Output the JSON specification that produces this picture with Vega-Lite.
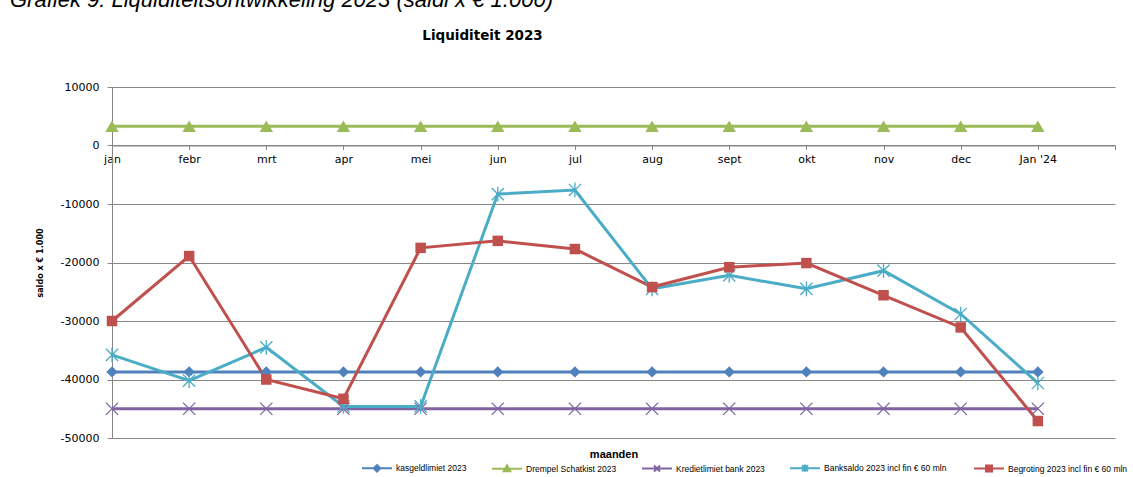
{
  "$schema": "https://vega.github.io/schema/vega-lite/v6.json",
  "autosize": "none",
  "padding": {"left": 112, "top": 87, "right": 18, "bottom": 39},
  "width": 1003,
  "height": 351,
  "background": "white",
  "title": {
    "text": "Grafiek 9: Liquiditeitsontwikkeling 2023 (saldi x € 1.000)",
    "anchor": "start", "frame": "group", "dx": -102, "offset": 16,
    "font": "Liberation Sans", "fontStyle": "italic", "fontWeight": "normal",
    "fontSize": 22, "color": "#000000"
  },
  "config": {
    "view": {"stroke": null},
    "axis": {
      "labelFont": "DejaVu Sans", "labelFontSize": 11, "labelColor": "#000000",
      "domainColor": "#868686", "tickColor": "#868686", "gridColor": "#868686",
      "domainWidth": 1, "tickWidth": 1, "gridWidth": 1
    }
  },
  "data": {
    "values": [
      {"series": "kasgeldlimiet 2023", "maand": "jan", "value": -38700},
      {"series": "kasgeldlimiet 2023", "maand": "febr", "value": -38700},
      {"series": "kasgeldlimiet 2023", "maand": "mrt", "value": -38700},
      {"series": "kasgeldlimiet 2023", "maand": "apr", "value": -38700},
      {"series": "kasgeldlimiet 2023", "maand": "mei", "value": -38700},
      {"series": "kasgeldlimiet 2023", "maand": "jun", "value": -38700},
      {"series": "kasgeldlimiet 2023", "maand": "jul", "value": -38700},
      {"series": "kasgeldlimiet 2023", "maand": "aug", "value": -38700},
      {"series": "kasgeldlimiet 2023", "maand": "sept", "value": -38700},
      {"series": "kasgeldlimiet 2023", "maand": "okt", "value": -38700},
      {"series": "kasgeldlimiet 2023", "maand": "nov", "value": -38700},
      {"series": "kasgeldlimiet 2023", "maand": "dec", "value": -38700},
      {"series": "kasgeldlimiet 2023", "maand": "Jan '24", "value": -38700},
      {"series": "Drempel Schatkist 2023", "maand": "jan", "value": 3300},
      {"series": "Drempel Schatkist 2023", "maand": "febr", "value": 3300},
      {"series": "Drempel Schatkist 2023", "maand": "mrt", "value": 3300},
      {"series": "Drempel Schatkist 2023", "maand": "apr", "value": 3300},
      {"series": "Drempel Schatkist 2023", "maand": "mei", "value": 3300},
      {"series": "Drempel Schatkist 2023", "maand": "jun", "value": 3300},
      {"series": "Drempel Schatkist 2023", "maand": "jul", "value": 3300},
      {"series": "Drempel Schatkist 2023", "maand": "aug", "value": 3300},
      {"series": "Drempel Schatkist 2023", "maand": "sept", "value": 3300},
      {"series": "Drempel Schatkist 2023", "maand": "okt", "value": 3300},
      {"series": "Drempel Schatkist 2023", "maand": "nov", "value": 3300},
      {"series": "Drempel Schatkist 2023", "maand": "dec", "value": 3300},
      {"series": "Drempel Schatkist 2023", "maand": "Jan '24", "value": 3300},
      {"series": "Kredietlimiet bank 2023", "maand": "jan", "value": -45000},
      {"series": "Kredietlimiet bank 2023", "maand": "febr", "value": -45000},
      {"series": "Kredietlimiet bank 2023", "maand": "mrt", "value": -45000},
      {"series": "Kredietlimiet bank 2023", "maand": "apr", "value": -45000},
      {"series": "Kredietlimiet bank 2023", "maand": "mei", "value": -45000},
      {"series": "Kredietlimiet bank 2023", "maand": "jun", "value": -45000},
      {"series": "Kredietlimiet bank 2023", "maand": "jul", "value": -45000},
      {"series": "Kredietlimiet bank 2023", "maand": "aug", "value": -45000},
      {"series": "Kredietlimiet bank 2023", "maand": "sept", "value": -45000},
      {"series": "Kredietlimiet bank 2023", "maand": "okt", "value": -45000},
      {"series": "Kredietlimiet bank 2023", "maand": "nov", "value": -45000},
      {"series": "Kredietlimiet bank 2023", "maand": "dec", "value": -45000},
      {"series": "Kredietlimiet bank 2023", "maand": "Jan '24", "value": -45000},
      {"series": "Banksaldo  2023 incl fin € 60 mln", "maand": "jan", "value": -35800},
      {"series": "Banksaldo  2023 incl fin € 60 mln", "maand": "febr", "value": -40200},
      {"series": "Banksaldo  2023 incl fin € 60 mln", "maand": "mrt", "value": -34500},
      {"series": "Banksaldo  2023 incl fin € 60 mln", "maand": "apr", "value": -44600},
      {"series": "Banksaldo  2023 incl fin € 60 mln", "maand": "mei", "value": -44600},
      {"series": "Banksaldo  2023 incl fin € 60 mln", "maand": "jun", "value": -8300},
      {"series": "Banksaldo  2023 incl fin € 60 mln", "maand": "jul", "value": -7600},
      {"series": "Banksaldo  2023 incl fin € 60 mln", "maand": "aug", "value": -24500},
      {"series": "Banksaldo  2023 incl fin € 60 mln", "maand": "sept", "value": -22200},
      {"series": "Banksaldo  2023 incl fin € 60 mln", "maand": "okt", "value": -24500},
      {"series": "Banksaldo  2023 incl fin € 60 mln", "maand": "nov", "value": -21400},
      {"series": "Banksaldo  2023 incl fin € 60 mln", "maand": "dec", "value": -28800},
      {"series": "Banksaldo  2023 incl fin € 60 mln", "maand": "Jan '24", "value": -40600},
      {"series": "Begroting 2023 incl fin € 60 mln", "maand": "jan", "value": -30000},
      {"series": "Begroting 2023 incl fin € 60 mln", "maand": "febr", "value": -18900},
      {"series": "Begroting 2023 incl fin € 60 mln", "maand": "mrt", "value": -40000},
      {"series": "Begroting 2023 incl fin € 60 mln", "maand": "apr", "value": -43300},
      {"series": "Begroting 2023 incl fin € 60 mln", "maand": "mei", "value": -17500},
      {"series": "Begroting 2023 incl fin € 60 mln", "maand": "jun", "value": -16300},
      {"series": "Begroting 2023 incl fin € 60 mln", "maand": "jul", "value": -17700},
      {"series": "Begroting 2023 incl fin € 60 mln", "maand": "aug", "value": -24200},
      {"series": "Begroting 2023 incl fin € 60 mln", "maand": "sept", "value": -20800},
      {"series": "Begroting 2023 incl fin € 60 mln", "maand": "okt", "value": -20100},
      {"series": "Begroting 2023 incl fin € 60 mln", "maand": "nov", "value": -25600},
      {"series": "Begroting 2023 incl fin € 60 mln", "maand": "dec", "value": -31100},
      {"series": "Begroting 2023 incl fin € 60 mln", "maand": "Jan '24", "value": -47100}
    ]
  },
  "encoding": {
    "y": {
      "field": "value", "type": "quantitative",
      "scale": {"domain": [-50000, 10000], "nice": false, "zero": false},
      "axis": {
        "values": [-50000, -40000, -30000, -20000, -10000, 0, 10000],
        "labelExpr": "datum.value + ''",
        "grid": true, "tickSize": 5, "labelPadding": 8,
        "title": "saldo x € 1.000", "titlePadding": 16,
        "titleFont": "DejaVu Sans Condensed, Liberation Sans", "titleFontSize": 9, "titleFontWeight": "bold", "titleColor": "#000000"
      }
    },
    "color": {
      "field": "series", "type": "nominal",
      "scale": {
        "domain": ["kasgeldlimiet 2023", "Drempel Schatkist 2023", "Kredietlimiet bank 2023", "Banksaldo  2023 incl fin € 60 mln", "Begroting 2023 incl fin € 60 mln"],
        "range": ["#4F81BD", "#9BBB59", "#8064A2", "#4BACC6", "#C0504D"]
      },
      "legend": {
        "orient": "none", "legendX": 249, "legendY": 365, "direction": "horizontal",
        "title": null, "symbolType": "stroke", "symbolSize": 900, "symbolStrokeWidth": 2,
        "labelFont": "Liberation Sans", "labelFontSize": 8.5, "labelColor": "#000000",
        "columnPadding": 21, "labelOffset": 3, "labelLimit": 300,
        "encode": {
          "symbols": {
            "update": {
              "shape": {"signal": "datum.value == 'kasgeldlimiet 2023' ? 'M-1,0L1,0M0,-0.22L0.22,0L0,0.22L-0.22,0Z' : datum.value == 'Drempel Schatkist 2023' ? 'M-1,0L1,0M0,-0.22L0.22,0.18L-0.22,0.18Z' : datum.value == 'Kredietlimiet bank 2023' ? 'M-1,0L1,0M-0.2,-0.2L0.2,0.2M-0.2,0.2L0.2,-0.2' : datum.value == 'Begroting 2023 incl fin € 60 mln' ? 'M-1,0L1,0M-0.2,-0.2L0.2,-0.2L0.2,0.2L-0.2,0.2Z' : 'M-1,0L1,0M-0.2,-0.2L0.2,0.2M-0.2,0.2L0.2,-0.2M0,-0.24L0,0.24'"},
              "size": {"value": 900},
              "strokeWidth": {"value": 2},
              "fill": {"scale": "color", "field": "value"},
              "stroke": {"scale": "color", "field": "value"},
              "opacity": {"value": 1},
              "fillOpacity": {"value": 1}
            }
          }
        }
      }
    }
  },
  "layer": [
    {
      "mark": {"type": "line", "strokeWidth": 3},
      "encoding": {
        "x": {
          "field": "maand", "type": "ordinal", "sort": null,
          "scale": {"type": "point", "padding": 0,
            "domain": ["jan", "febr", "mrt", "apr", "mei", "jun", "jul", "aug", "sept", "okt", "nov", "dec", "Jan '24", " "]},
          "axis": {
            "orient": "bottom", "offset": -292.5, "labelAngle": 0, "grid": false,
            "tickSize": 4, "labelPadding": 4,
            "title": "maanden", "titleY": 309, "titleBaseline": "middle",
            "titleFont": "Liberation Sans", "titleFontSize": 11, "titleFontWeight": "bold", "titleColor": "#000000"
          }
        }
      }
    },
    {
      "transform": [{"filter": "datum.series == 'kasgeldlimiet 2023'"}],
      "mark": {"type": "point", "filled": true, "opacity": 1, "shape": "diamond", "size": 130},
      "encoding": {
        "x": {
          "field": "maand", "type": "ordinal", "sort": null,
          "scale": {"type": "point", "padding": 0,
            "domain": ["jan", "febr", "mrt", "apr", "mei", "jun", "jul", "aug", "sept", "okt", "nov", "dec", "Jan '24", " "]},
          "axis": {
            "orient": "top", "domain": false, "ticks": false, "labels": false, "grid": false,
            "title": "Liquiditeit 2023", "titleX": 370, "titleY": -52, "titleAlign": "center", "titleBaseline": "middle",
            "titleFont": "DejaVu Sans", "titleFontSize": 13.5, "titleFontWeight": "bold", "titleColor": "#000000"
          }
        }
      }
    },
    {
      "transform": [{"filter": "datum.series == 'Drempel Schatkist 2023'"}],
      "mark": {"type": "point", "filled": true, "opacity": 1, "shape": "triangle-up", "size": 180},
      "encoding": {
        "x": {
          "field": "maand", "type": "ordinal", "sort": null,
          "scale": {"type": "point", "padding": 0,
            "domain": ["jan", "febr", "mrt", "apr", "mei", "jun", "jul", "aug", "sept", "okt", "nov", "dec", "Jan '24", " "]},
          "axis": null
        }
      }
    },
    {
      "transform": [{"filter": "datum.series == 'Kredietlimiet bank 2023'"}],
      "mark": {"type": "point", "filled": false, "opacity": 1, "shape": "M-1,-1L1,1M-1,1L1,-1", "size": 150, "strokeWidth": 1.3},
      "encoding": {
        "x": {
          "field": "maand", "type": "ordinal", "sort": null,
          "scale": {"type": "point", "padding": 0,
            "domain": ["jan", "febr", "mrt", "apr", "mei", "jun", "jul", "aug", "sept", "okt", "nov", "dec", "Jan '24", " "]},
          "axis": null
        }
      }
    },
    {
      "transform": [{"filter": "datum.series == 'Banksaldo  2023 incl fin € 60 mln'"}],
      "mark": {"type": "point", "filled": false, "opacity": 1, "shape": "M-1,-1L1,1M-1,1L1,-1M0,-1.2L0,1.2", "size": 150, "strokeWidth": 1.3},
      "encoding": {
        "x": {
          "field": "maand", "type": "ordinal", "sort": null,
          "scale": {"type": "point", "padding": 0,
            "domain": ["jan", "febr", "mrt", "apr", "mei", "jun", "jul", "aug", "sept", "okt", "nov", "dec", "Jan '24", " "]},
          "axis": null
        }
      }
    },
    {
      "transform": [{"filter": "datum.series == 'Begroting 2023 incl fin € 60 mln'"}],
      "mark": {"type": "point", "filled": true, "opacity": 1, "shape": "square", "size": 110},
      "encoding": {
        "x": {
          "field": "maand", "type": "ordinal", "sort": null,
          "scale": {"type": "point", "padding": 0,
            "domain": ["jan", "febr", "mrt", "apr", "mei", "jun", "jul", "aug", "sept", "okt", "nov", "dec", "Jan '24", " "]},
          "axis": null
        }
      }
    }
  ],
  "resolve": {"axis": {"x": "independent"}}
}
